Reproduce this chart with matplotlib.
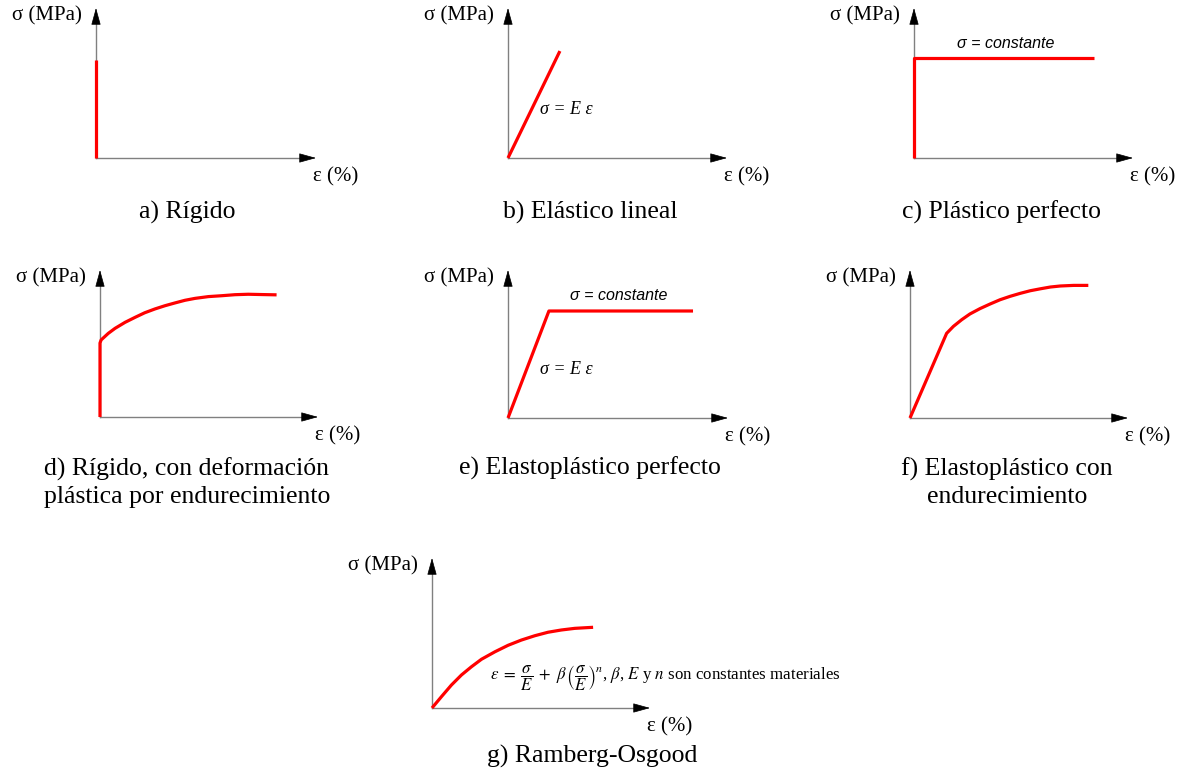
import matplotlib
matplotlib.use("Agg")
import matplotlib.pyplot as plt
from matplotlib.patches import FancyArrowPatch

plt.rcParams['mathtext.fontset'] = 'stix'
plt.rcParams['font.family'] = ['Liberation Serif', 'DejaVu Serif']

# ---- data (normalized strain / stress, fraction of axis length) ----
a_eps = [0, 0]
a_sig = [0, 0.653]
b_eps = [0, 0.237]
b_sig = [0, 0.713]
c_eps = [0, 0, 0.82]
c_sig = [0, 0.667, 0.667]
d_eps = [0, 0, 0.005, 0.038, 0.069, 0.115, 0.161, 0.205, 0.252, 0.298, 0.344,
         0.390, 0.436, 0.497, 0.558, 0.619, 0.680, 0.741, 0.81]
d_sig = [0, 0.503, 0.524, 0.569, 0.603, 0.644, 0.678, 0.709, 0.735, 0.757,
         0.776, 0.794, 0.807, 0.819, 0.825, 0.832, 0.835, 0.833, 0.831]
e_eps = [0, 0.186, 0.841]
e_sig = [0, 0.723, 0.723]
f_eps = [0, 0.168, 0.199, 0.237, 0.275, 0.321, 0.367, 0.413, 0.459, 0.505,
         0.552, 0.598, 0.644, 0.690, 0.751, 0.818]
f_sig = [0, 0.572, 0.619, 0.664, 0.703, 0.739, 0.770, 0.799, 0.822, 0.842,
         0.860, 0.873, 0.885, 0.892, 0.896, 0.896]
g_eps = [0, 0.043, 0.089, 0.135, 0.181, 0.227, 0.289, 0.349, 0.410, 0.472,
         0.532, 0.593, 0.655, 0.739]
g_sig = [0, 0.075, 0.153, 0.220, 0.275, 0.325, 0.375, 0.418, 0.453, 0.482,
         0.505, 0.520, 0.531, 0.538]

titles = ["a) Rígido", "b) Elástico lineal", "c) Plástico perfecto",
          "d) Rígido, con deformación\nplástica por endurecimiento",
          "e) Elastoplástico perfecto",
          "f) Elastoplástico con\nendurecimiento",
          "g) Ramberg-Osgood"]
ylabel = "σ (MPa)"
xlabel = "ε (%)"

W, H = 1188, 774
fig = plt.figure(figsize=(W / 100, H / 100), dpi=100)
fig.patch.set_facecolor('white')

# panel geometry: origin x, origin y (pixels from top), axis width, axis height
panels = [
    (96, 158, 220, 150),
    (508, 158, 219, 150),
    (914, 158, 219, 150),
    (100, 417, 218, 147),
    (508, 418, 220, 148),
    (910, 418, 218, 148),
    (432, 708, 218, 150),
]
series = [(a_eps, a_sig), (b_eps, b_sig), (c_eps, c_sig), (d_eps, d_sig),
          (e_eps, e_sig), (f_eps, f_sig), (g_eps, g_sig)]
title_pos = [(187, 212), (590, 212), (1001, 212), (187, 483), (590, 468),
             (1007, 483), (592, 756)]


def fx(px):
    return px / W


def fy(py):
    return 1 - py / H


axes = []
for (ox, oy, aw, ah), (xs, ys) in zip(panels, series):
    ax = fig.add_axes([fx(ox), fy(oy), aw / W, ah / H])
    ax.set_xlim(0, 1)
    ax.set_ylim(0, 1)
    ax.axis('off')
    hl = 15 / aw
    vl = 15 / ah
    ax.plot([0, 1 - hl * 0.9], [0, 0], color='#808080', lw=1.0,
            transform=ax.transAxes, clip_on=False, zorder=1)
    ax.plot([0, 0], [0, 1 - vl * 0.9], color='#808080', lw=1.0,
            transform=ax.transAxes, clip_on=False, zorder=1)
    for start, end in [((1 - hl, 0), (1, 0)), ((0, 1 - vl), (0, 1))]:
        arr = FancyArrowPatch(start, end, transform=ax.transAxes,
                              arrowstyle='-|>,head_length=10.8,head_width=3.0',
                              mutation_scale=1, color='black', lw=0.5,
                              shrinkA=0, shrinkB=0, clip_on=False, zorder=2)
        ax.add_patch(arr)
    ax.plot(xs, ys, color='#ff0000', lw=2.3, clip_on=False,
            solid_capstyle='butt', solid_joinstyle='round', zorder=3)
    # axis labels
    fig.text(fx(ox - 14), fy(oy - ah + 8), ylabel, ha='right', va='center',
             fontsize=15)
    fig.text(fx(ox + aw - 3), fy(oy + 19), xlabel, ha='left', va='center',
             fontsize=15)
    axes.append(ax)

for t, (cx, cy) in zip(titles, title_pos):
    fig.text(fx(cx), fy(cy), t, ha='center', va='center', fontsize=18.5,
             linespacing=1.3)

# annotations
fig.text(fx(540), fy(110), "σ = E ε", ha='left', va='center', fontsize=13,
         style='italic')
fig.text(fx(540), fy(370), "σ = E ε", ha='left', va='center', fontsize=13,
         style='italic')
fig.text(fx(957), fy(43), "σ = constante", ha='left', va='center',
         fontsize=11.5, style='italic', family='Liberation Sans')
fig.text(fx(570), fy(296), "σ = constante", ha='left', va='center',
         fontsize=11.5, style='italic', family='Liberation Sans')
fig.text(fx(490), fy(678),
         r"$\varepsilon\;=\;\dfrac{\sigma}{E}\;+\;\beta\,\left(\dfrac{\sigma}{E}\right)^n$, $\beta$, $E$ y $n$ son constantes materiales",
         ha='left', va='center', fontsize=12.2)

fig.savefig("out.png", dpi=100, facecolor='white')
